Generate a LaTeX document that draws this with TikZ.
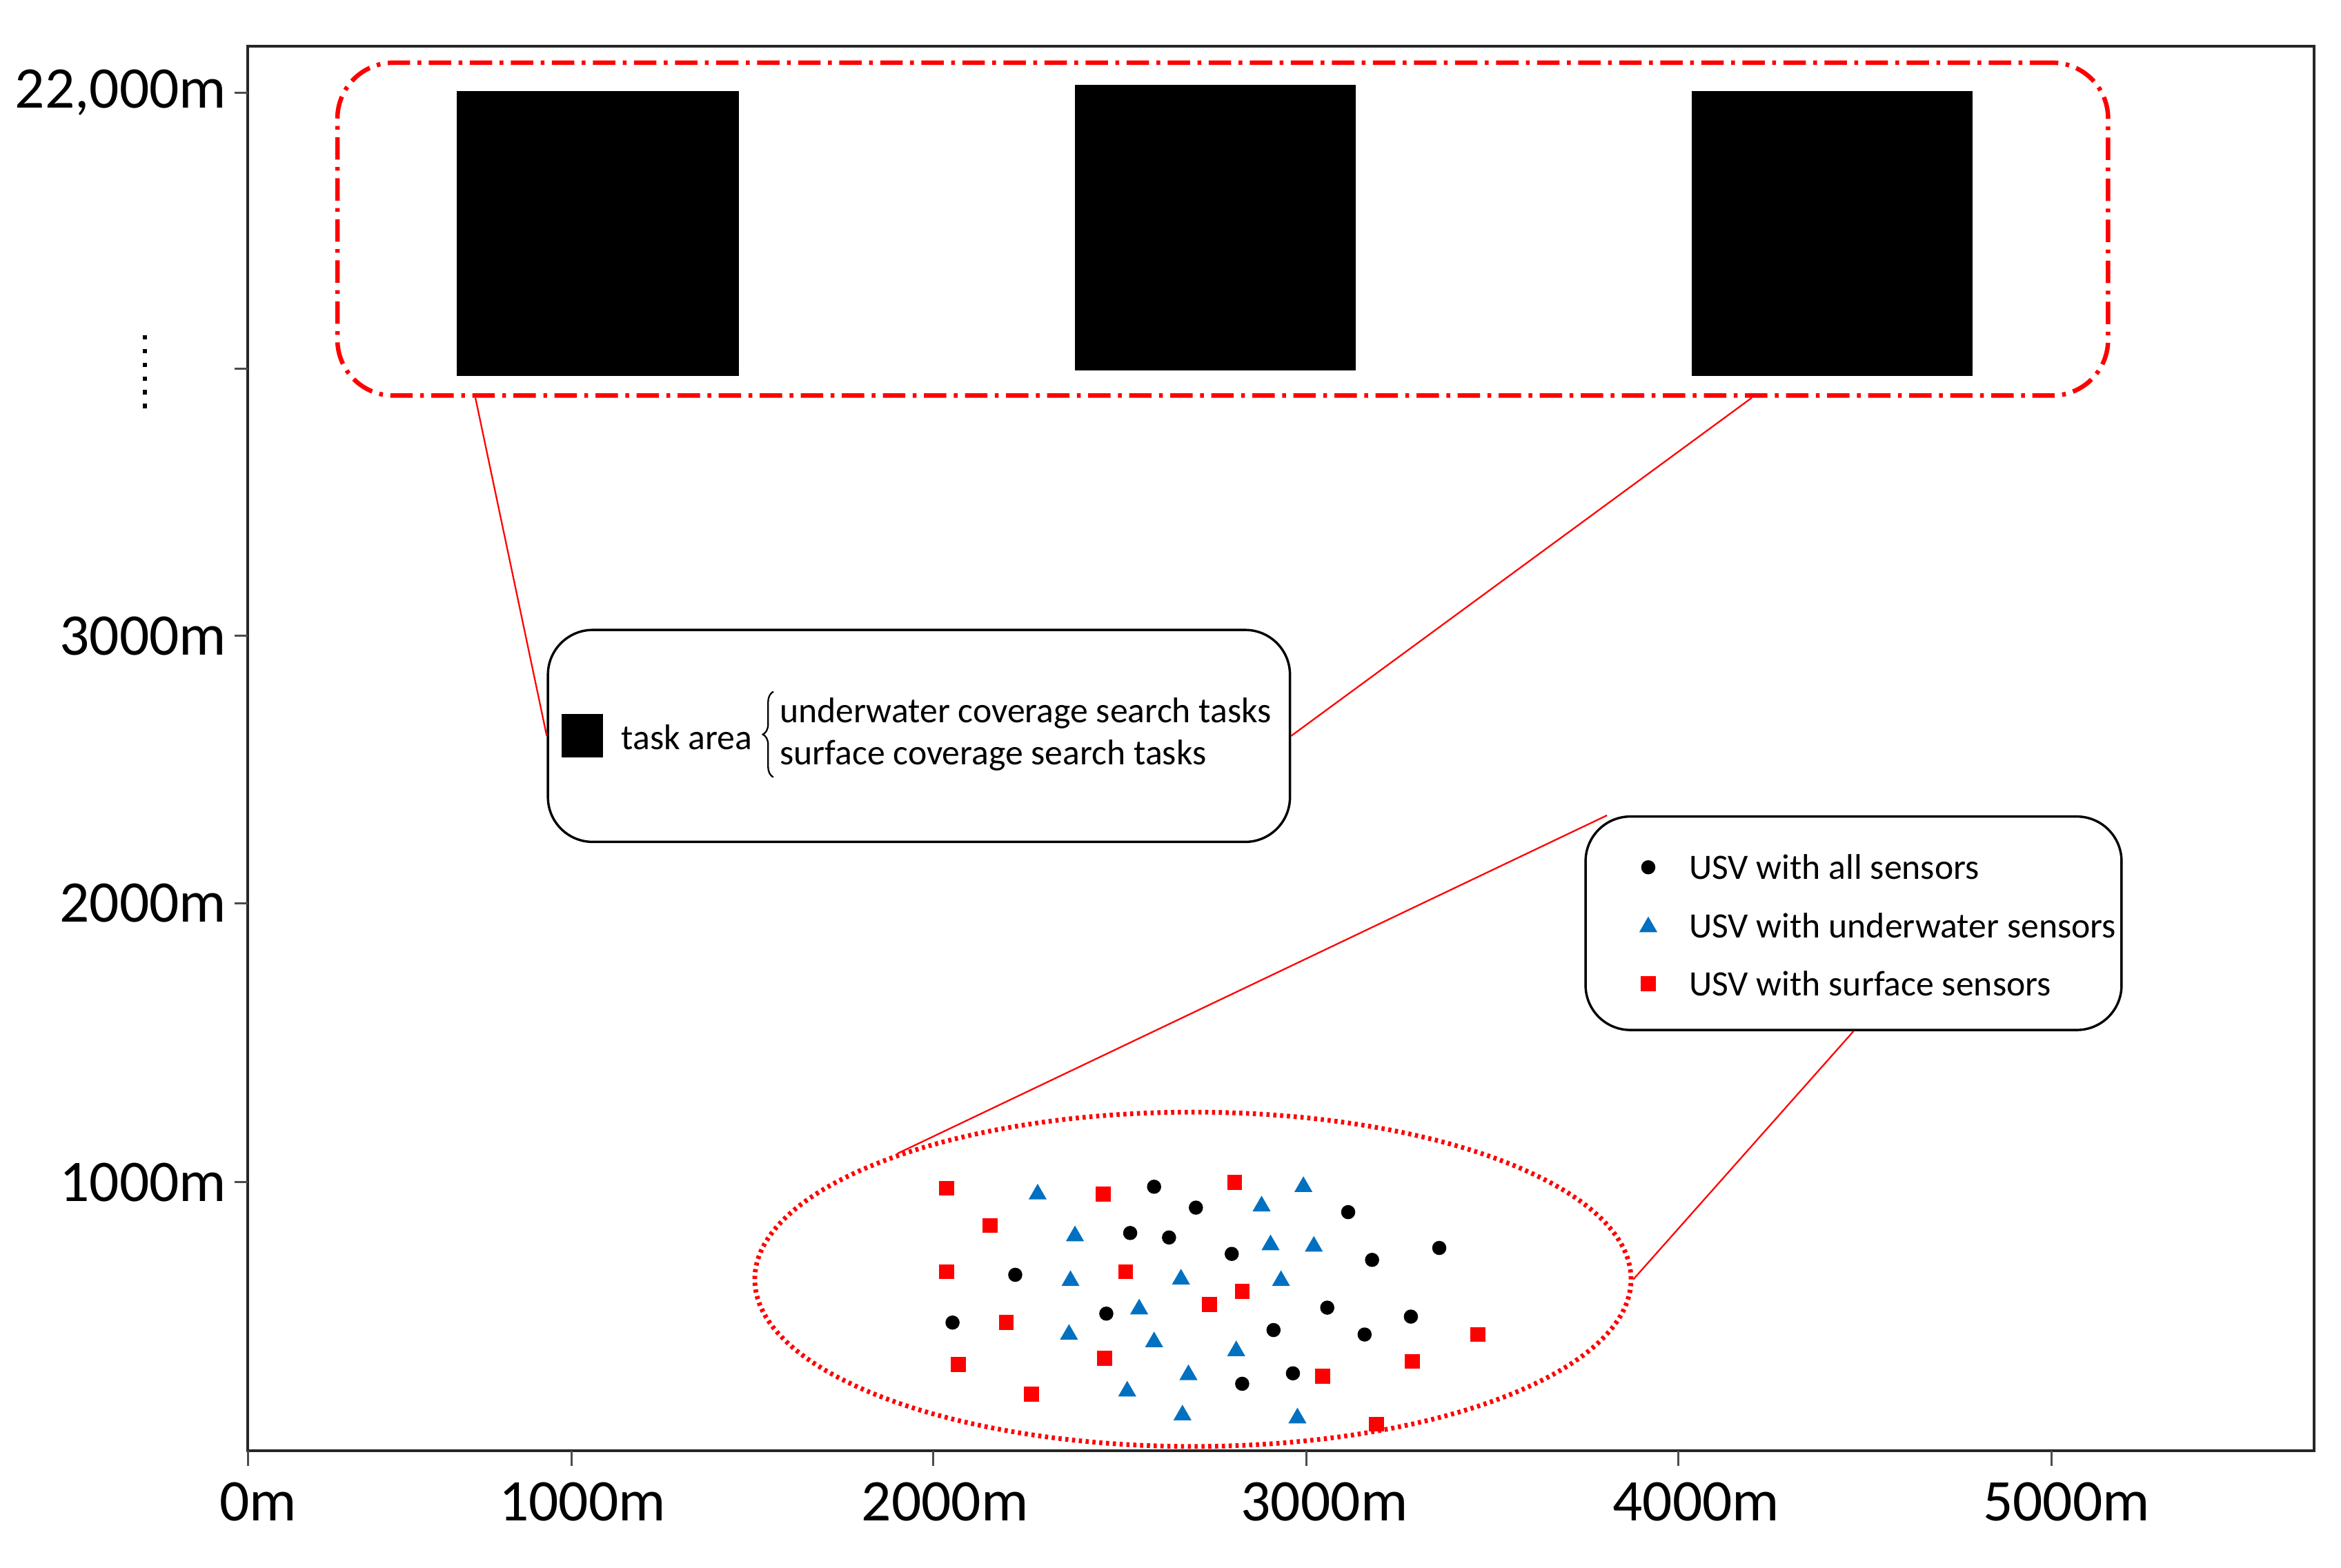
\documentclass[tikz,border=0pt]{standalone}
\usepackage{fontspec}
\setmainfont{Carlito}
\usetikzlibrary{shapes.geometric,fit,calc,decorations.pathreplacing}
\definecolor{usvblue}{RGB}{0,112,192}
\begin{document}
\begin{tikzpicture}[x=0.02cm,y=-0.02cm,
  frameline/.style={line width=1pt, draw=black!85},
  tickline/.style={line width=0.8pt, draw=black!70},
  axislabel/.style={font=\fontsize{22.5}{26}\selectfont, inner sep=0pt},
  txt/.style={font=\fontsize{13.6}{15.9}\selectfont, inner sep=0pt, anchor=west},
  redbox/.style={draw=red, line width=1.7pt, rounded corners=0.75cm,
    dash pattern=on 0.3cm off 0.1cm on 0.05cm off 0.1cm, inner sep=0pt},
  blackbox/.style={draw=black, line width=0.9pt, rounded corners=0.6cm, inner sep=0pt},
  callout/.style={draw=red, line width=0.6pt},
  taskarea/.style={fill=black, draw=none, inner sep=0pt},
  sqm/.style={rectangle, fill=red, draw=none, minimum size=0.2cm, inner sep=0pt},
  dotm/.style={circle, fill=black, draw=none, minimum size=0.19cm, inner sep=0pt},
  trim/.style={regular polygon, regular polygon sides=3, fill=usvblue, draw=none,
    minimum size=0.28cm, inner sep=0pt},
  sepdot/.style={rectangle, fill=black, minimum size=0.06cm, inner sep=0pt},
]
\useasboundingbox (0,0) rectangle (1568,1050);

% frame and axes
\coordinate (o) at (166,972);
\coordinate (fr) at (1550,31);
\draw[frameline] (166,31) rectangle (1550,972);

% y ticks and labels
\foreach \yy/\lab/\nm in {62/{22,000m}/ya, 426/{3000m}/yb, 605/{2000m}/yc, 792/{1000m}/yd}{
  \draw[tickline] (157,\yy) -- (166,\yy);
  \node[axislabel, anchor=east] (\nm) at (152,\yy) {\lab};
}
\draw[tickline] (157,247) -- (166,247);
\foreach \i in {0,...,5}{
  \node[sepdot] (sd\i) at (97,{226+\i*9.2}) {};
}

% x ticks and labels
\foreach \xx/\lx/\lab/\nm in {166/173/0m/xa, 383/390/1000m/xb, 625/633/2000m/xc,
    875/887/3000m/xd, 1124/1136/4000m/xe, 1374/1384/5000m/xf}{
  \draw[tickline] (\xx,972) -- (\xx,982);
  \node[axislabel] (\nm) at (\lx,1006) {\lab};
}

% task areas
\coordinate (r1) at (226,42);
\coordinate (r2) at (1412,265);
\node[redbox, fit=(r1)(r2)] (region) {};
\coordinate (a1) at (306,61);  \coordinate (a2) at (495,252);
\coordinate (b1) at (720,57);  \coordinate (b2) at (908,248);
\coordinate (c1) at (1133,61); \coordinate (c2) at (1321,252);
\node[taskarea, fit=(a1)(a2)] (sq1) {};
\node[taskarea, fit=(b1)(b2)] (sq2) {};
\node[taskarea, fit=(c1)(c2)] (sq3) {};

% task legend box
\coordinate (t1) at (367,422);
\coordinate (t2) at (864,564);
\node[blackbox, fit=(t1)(t2)] (taskbox) {};
\node[taskarea, minimum width=0.56cm, minimum height=0.58cm] (tsq) at (390,493) {};
\node[txt] (tlab) at (416,494) {task area};
\node[txt, align=left] (tlines) at (522,492) {underwater coverage search tasks\\surface coverage search tasks};
\draw[decorate, decoration={brace, amplitude=4pt}, line width=0.6pt]
  ($(tlines.south west)+(-4,4)$) -- ($(tlines.north west)+(-4,-4)$);

% callouts from region
\draw[callout] ($(region.south west)!0.079!(region.south east)$) -- (taskbox.west);
\draw[callout] ($(region.south west)!0.798!(region.south east)$) -- (taskbox.east);

% USV legend box
\coordinate (l1) at (1062,547);
\coordinate (l2) at (1421,690);
\node[blackbox, fit=(l1)(l2)] (legend) {};
\node[dotm] (lg1) at (1104,581) {};
\node[trim] (lg2) at (1104,621) {};
\node[sqm] (lg3) at (1104,659) {};
\node[txt] (lt1) at (1131,581) {USV with all sensors};
\node[txt] (lt2) at (1131,620) {USV with underwater sensors};
\node[txt] (lt3) at (1131,659) {USV with surface sensors};

% swarm ellipse
\node[ellipse, draw=red, line width=1.8pt, dash pattern=on 1.2pt off 1.4pt,
  minimum width=11.74cm, minimum height=4.48cm, inner sep=0pt] (swarm) at (799,857) {};

\draw[callout] ($(legend.north west)!0.042!(legend.north east)$) -- (swarm.157.6);
\draw[callout] (legend.south) -- (swarm.east);

% USVs with surface sensors
\foreach \px/\py [count=\i] in {634/796, 739/800, 827/792, 663/821, 634/852, 754/852,
   832/865, 810/874, 674/886, 740/910, 642/914, 886/922, 946/912, 990/894, 691/934, 922/954}{
  \node[sqm] (s\i) at (\px,\py) {};
}
% USVs with all sensors
\foreach \px/\py [count=\i] in {773/795, 801/809, 903/812, 757/826, 783/829, 825/840,
   964/836, 919/844, 680/854, 889/876, 741/880, 638/886, 945/882, 853/891, 914/894,
   866/920, 832/927}{
  \node[dotm] (d\i) at (\px,\py) {};
}
% USVs with underwater sensors
\foreach \px/\py [count=\i] in {695/800, 873/795, 845/808, 720/828, 851/834, 880/835,
   717/858, 791/857, 858/858, 763/877, 716/894, 773/899, 828/905, 796/921, 755/932,
   792/948, 869/950}{
  \node[trim] (u\i) at (\px,\py) {};
}
\end{tikzpicture}
\end{document}
